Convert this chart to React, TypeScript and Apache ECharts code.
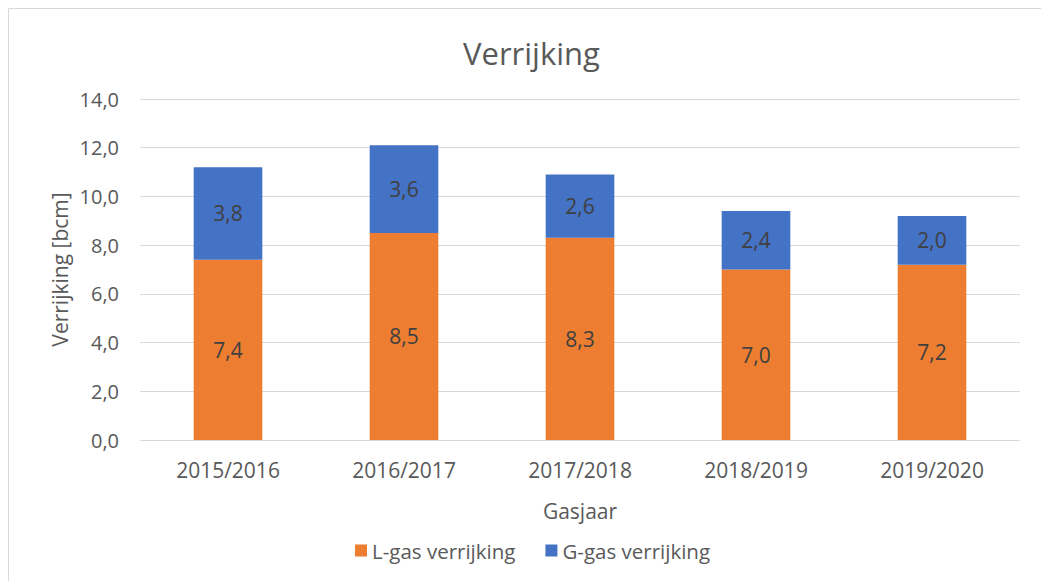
import React, { useEffect, useRef } from "react";
import * as echarts from "echarts";

const categories = ["2015/2016", "2016/2017", "2017/2018", "2018/2019", "2019/2020"];
const lGas = [7.4, 8.5, 8.3, 7.0, 7.2];
const gGas = [3.8, 3.6, 2.6, 2.4, 2.0];
const seriesNames = ["L-gas verrijking", "G-gas verrijking"];

const FONT = "Open Sans";
const GREY = "#595959";
const fmt = (v: number) => v.toFixed(1).replace(".", ",");

export default function App() {
  const ref = useRef<HTMLDivElement>(null);
  useEffect(() => {
    document.body.style.margin = "0";
    const chart = echarts.init(ref.current!, null, { renderer: "svg" });
    chart.setOption({
      animation: false,
      textStyle: { fontFamily: FONT },
      title: {
        text: "Verrijking",
        left: 458,
        top: 32,
        textStyle: { fontFamily: FONT, fontSize: 31, fontWeight: "normal", color: GREY },
      },
      graphic: [
        {
          type: "rect",
          shape: { x: 8.5, y: 8.5, width: 1200, height: 800 },
          style: { fill: "none", stroke: "#d9d9d9", lineWidth: 1 },
          silent: true,
        },
      ],
      legend: {
        data: seriesNames,
        left: 350,
        top: 535,
        itemWidth: 12,
        itemHeight: 12,
        itemGap: 30,
        icon: "rect",
        textStyle: { fontFamily: FONT, fontSize: 20.5, color: GREY },
      },
      grid: { left: 140, right: 21, top: 99, bottom: 141, containLabel: false },
      xAxis: {
        type: "category",
        data: categories,
        name: "Gasjaar",
        nameLocation: "middle",
        nameGap: 60,
        nameMoveOverlap: false,
        nameTextStyle: { fontFamily: FONT, fontSize: 21, color: GREY, verticalAlign: "top" },
        axisLine: { lineStyle: { color: "#d9d9d9", width: 1 } },
        axisTick: { show: false },
        axisLabel: { fontFamily: FONT, fontSize: 21, color: GREY, margin: 19 },
      },
      yAxis: {
        type: "value",
        min: 0,
        max: 14,
        interval: 2,
        name: "Verrijking [bcm]",
        nameLocation: "middle",
        nameGap: 70,
        nameMoveOverlap: false,
        nameTextStyle: { fontFamily: FONT, fontSize: 21, color: GREY },
        axisLine: { show: false },
        axisTick: { show: false },
        splitLine: { lineStyle: { color: "#d9d9d9", width: 1 } },
        axisLabel: { fontFamily: FONT, fontSize: 20, color: GREY, margin: 21, formatter: (v: number) => fmt(v) },
      },
      series: [
        {
          name: seriesNames[0],
          type: "bar",
          stack: "total",
          data: lGas,
          barWidth: "39%",
          itemStyle: { color: "#ED7D31" },
          label: { show: true, position: "inside", formatter: (p: any) => fmt(p.value), fontFamily: FONT, fontSize: 21, color: "#404040" },
        },
        {
          name: seriesNames[1],
          type: "bar",
          stack: "total",
          data: gGas,
          barWidth: "39%",
          itemStyle: { color: "#4472C4" },
          label: { show: true, position: "inside", formatter: (p: any) => fmt(p.value), fontFamily: FONT, fontSize: 21, color: "#404040" },
        },
      ],
    });
    return () => chart.dispose();
  }, []);
  return <div ref={ref} style={{ width: 1041, height: 581 }} />;
}
